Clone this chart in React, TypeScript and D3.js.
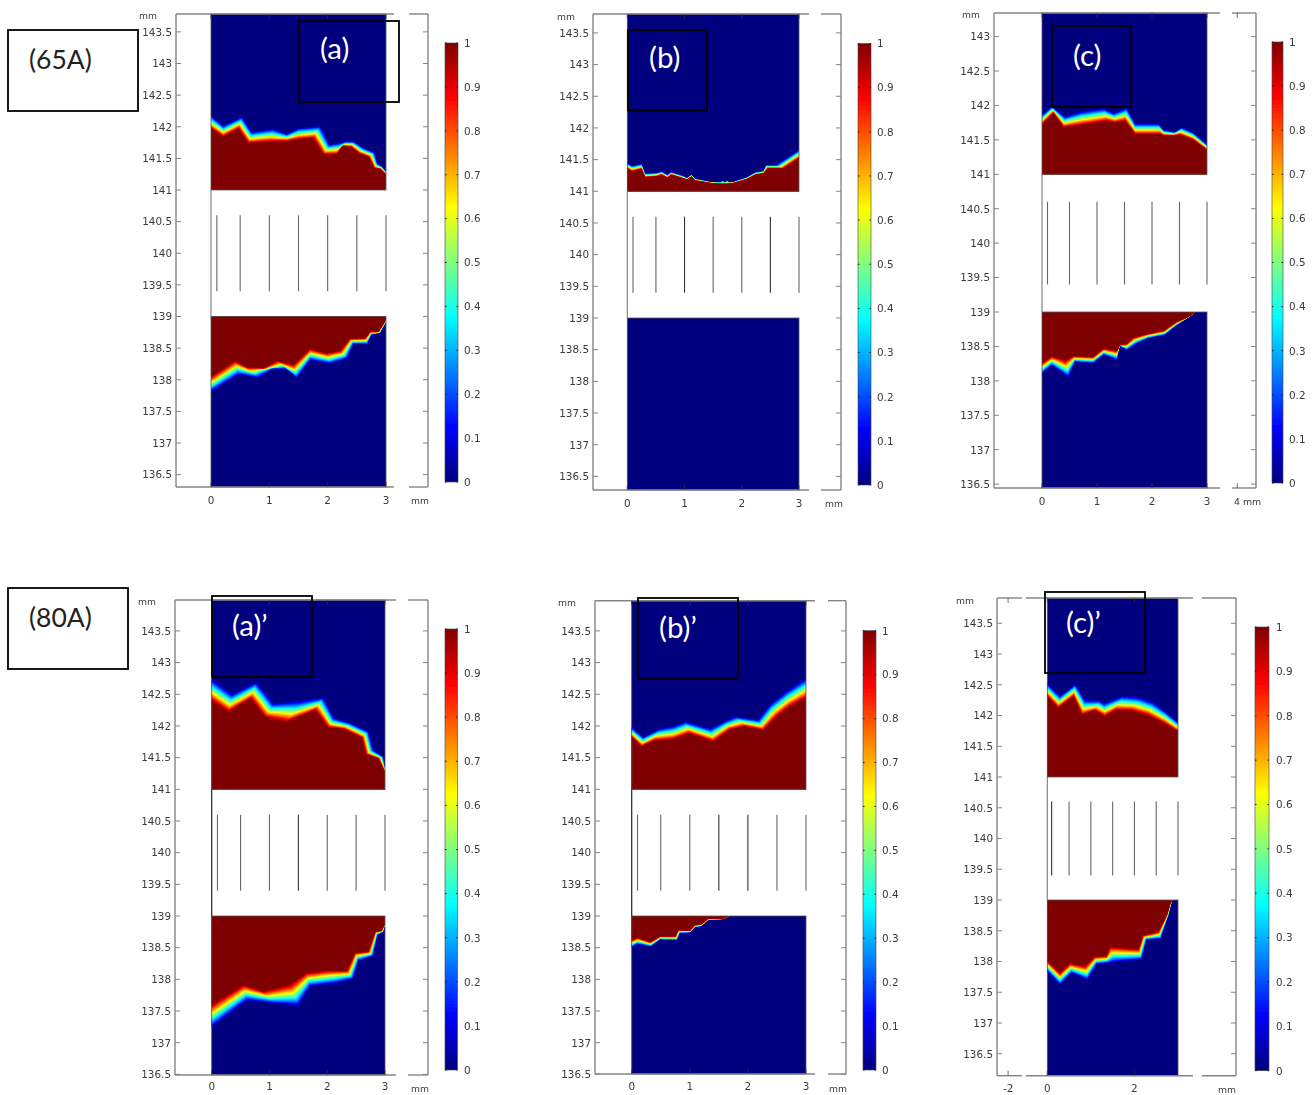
import React from "react";
import * as d3 from "d3";

// Interface rows: [xRedEdge, yRedEdge, xBlueEdge, yBlueEdge] in mm
type Row = [number, number, number, number];

const upperA: Row[] = [[0,141.97,0,142.17],[.21,141.84,.21,142.01],[.47,141.97,.53,142.15],[.64,141.74,.7,141.91],[1.0,141.76,1.07,141.96],[1.3,141.77,1.3,141.88],[1.5,141.8,1.5,141.97],[1.75,141.82,1.87,142.0],[1.93,141.56,2.03,141.71],[2.15,141.56,2.2,141.74],[2.25,141.69,2.32,141.76],[2.4,141.68,2.45,141.76],[2.53,141.58,2.62,141.66],[2.7,141.52,2.8,141.59],[2.8,141.34,2.85,141.42],[2.9,141.33,2.93,141.37],[3,141.24,3,141.29]];
const lowerA: Row[] = [[0,138.05,0,137.82],[.41,138.30,.47,138.09],[.61,138.20,.81,138.04],[.90,138.18,1.07,138.18],[1.13,138.30,1.30,138.17],[1.41,138.24,1.47,138.03],[1.70,138.49,1.70,138.32],[1.98,138.42,2.04,138.26],[2.21,138.46,2.33,138.34],[2.38,138.65,2.44,138.57],[2.64,138.66,2.68,138.57],[2.73,138.76,2.75,138.71],[2.87,138.76,2.90,138.74],[3,138.95,3,138.91]];
const upperB: Row[] = [[0,141.36,0,141.44],[.08,141.31,.08,141.40],[.25,141.35,.25,141.43],[.31,141.22,.31,141.28],[.51,141.23,.51,141.29],[.60,141.26,.60,141.31],[.70,141.21,.70,141.26],[.77,141.26,.77,141.30],[.98,141.20,.98,141.24],[1.04,141.18,1.04,141.21],[1.12,141.23,1.12,141.26],[1.18,141.17,1.18,141.20],[1.44,141.13,1.44,141.15],[1.63,141.115,1.63,141.14],[1.67,141.115,1.67,141.17],[1.7,141.115,1.7,141.14],[1.75,141.115,1.75,141.17],[1.78,141.12,1.78,141.14],[1.86,141.13,1.86,141.15],[2.09,141.19,2.09,141.22],[2.24,141.26,2.24,141.30],[2.38,141.28,2.38,141.32],[2.46,141.36,2.42,141.41],[2.73,141.36,2.6,141.41],[3,141.52,3,141.65]];
const lowerB: Row[] = [];
const upperC: Row[] = [[0,141.72,0,141.86],[.21,141.89,.18,141.98],[.39,141.68,.42,141.83],[.75,141.72,.69,141.90],[1.18,141.77,1.12,141.95],[1.33,141.75,1.30,141.88],[1.51,141.77,1.54,141.96],[1.69,141.58,1.69,141.73],[2.15,141.58,2.12,141.73],[2.21,141.56,2.21,141.64],[2.39,141.56,2.42,141.61],[2.51,141.57,2.54,141.68],[2.75,141.50,2.75,141.60],[3,141.35,3,141.43]];
const lowerC: Row[] = [[0,138.26,0,138.11],[.18,138.36,.18,138.23],[.42,138.30,.48,138.06],[.57,138.36,.60,138.28],[.93,138.35,.93,138.26],[1.12,138.47,1.12,138.38],[1.36,138.44,1.36,138.31],[1.42,138.52,1.41,138.51],[1.54,138.54,1.54,138.45],[1.66,138.63,1.72,138.54],[1.90,138.68,1.93,138.62],[2.21,138.73,2.24,138.67],[2.45,138.86,2.42,138.79],[2.64,138.92,2.64,138.91],[2.78,138.995,2.78,138.99]];
const upperAp: Row[] = [[0,142.40,0,142.72],[.29,142.22,.35,142.49],[.68,142.43,.77,142.68],[.92,142.14,1.07,142.34],[1.29,142.06,1.53,142.38],[1.79,142.25,1.93,142.44],[2.02,141.97,2.11,142.12],[2.28,141.95,2.40,142.04],[2.60,141.81,2.71,141.91],[2.67,141.55,2.79,141.62],[2.88,141.49,2.97,141.51],[3,141.27,3,141.32]];
const lowerAp: Row[] = [[0,137.60,0,137.26],[.55,137.91,.61,137.68],[.89,137.81,1.07,137.63],[1.36,137.92,1.50,137.60],[1.64,138.10,1.70,137.90],[1.99,138.14,2.16,137.95],[2.34,138.14,2.44,138.01],[2.48,138.42,2.54,138.30],[2.71,138.44,2.79,138.37],[2.83,138.75,2.87,138.70],[2.94,138.77,2.97,138.75],[3,138.88,3,138.86]];
const upperBp: Row[] = [[0,141.82,0,141.97],[.17,141.67,.20,141.82],[.37,141.76,.49,141.95],[.72,141.79,.72,141.99],[1.00,141.88,.92,142.06],[1.41,141.75,1.35,141.95],[1.69,141.94,1.61,142.07],[1.95,141.99,1.78,142.14],[2.27,141.93,2.18,142.09],[2.50,142.15,2.38,142.33],[2.73,142.31,2.67,142.54],[3,142.44,3,142.74]];
const lowerBp: Row[] = [[0,138.62,0,138.51],[.10,138.66,.10,138.56],[.32,138.59,.33,138.52],[.49,138.68,.49,138.63],[.75,138.68,.78,138.62],[.80,138.78,.83,138.73],[1.00,138.77,1.00,138.74],[1.09,138.86,1.09,138.82],[1.20,138.87,1.20,138.84],[1.32,138.96,1.32,138.94],[1.58,138.96,1.58,138.95],[1.66,138.995,1.66,138.99]];
const upperCp: Row[] = [[0,142.31,0,142.51],[.25,142.12,.29,142.31],[.60,142.31,.64,142.50],[.79,142.01,.87,142.24],[1.09,142.08,1.21,142.23],[1.32,141.98,1.30,142.19],[1.55,142.08,1.74,142.31],[1.90,142.08,2.12,142.28],[2.28,142.01,2.43,142.20],[2.66,141.88,2.73,142.05],[3,141.74,3,141.88]];
const lowerCp: Row[] = [[0,138.01,0,137.85],[.29,137.82,.29,137.63],[.52,137.97,.56,137.82],[.87,137.93,.92,137.71],[1.09,138.08,1.13,137.96],[1.36,138.09,1.38,137.98],[1.44,138.24,1.52,138.00],[2.09,138.20,2.16,138.04],[2.19,138.42,2.28,138.36],[2.55,138.49,2.60,138.37],[2.74,138.75,2.78,138.75],[2.82,138.94,2.86,138.97],[2.87,138.995,2.87,138.995]];

const yTicksFull = [136.5,137,137.5,138,138.5,139,139.5,140,140.5,141,141.5,142,142.5,143,143.5];
const yTicksC = [136.5,137,137.5,138,138.5,139,139.5,140,140.5,141,141.5,142,142.5,143];
const xLabels = ["0","1","2","3"];
const xLabelsC = ["0","1","2","3",""];
const xLabelsCp = ["-2","0","2"];
// where those tick marks fall on each panel's own millimetre scale
const xAt = [0,1,2,3];
const xAtC = [0,1,2,3,3.55];
const xAtCp = [-0.9,0,2];
const electrodes = [0.1,0.5,1,1.5,2,2.5,3];
const barTicks = [0,0.1,0.2,0.3,0.4,0.5,0.6,0.7,0.8,0.9,1];

const jetStops: [number, string][] = [[0,"#00007f"],[0.125,"#0000ff"],[0.375,"#00ffff"],[0.5,"#80ff80"],[0.625,"#ffff00"],[0.875,"#ff0000"],[1,"#7f0000"]];
const jet = d3.scaleLinear<string>().domain(jetStops.map(d => d[0])).range(jetStops.map(d => d[1])).interpolate(d3.interpolateRgb);
const levels = d3.range(0, 1.0001, 1 / 32);
const bandStretch = 1.12;

const font = "'DejaVu Sans', sans-serif";
const labelFont = "Lato, sans-serif";
const grey = "#858585";
const tickText = "#3a3a3a";

type Layout = {
  id: string; upper: Row[]; lower: Row[]; yTicks: number[]; xAt: number[]; xLabels: string[]; darkLines: number[]; darkAxis: boolean;
  left: number; right: number; top: number; bottom: number; gaps: [number, number][];
  x0: number; x3: number; y141: number; y139: number;
  barL: number; barR: number; barT: number; barB: number; barText: number;
  mmTopX: number; mmTopY: number; mmX: number; mmY: number; xLabelY: number; fourMm?: boolean;
};

const panels: Layout[] = [
  { id: "a", upper: upperA, lower: lowerA, yTicks: yTicksFull, xAt, xLabels, darkLines: [], darkAxis: false, left: 176, right: 428, top: 14, bottom: 487, gaps: [[394,409]], x0: 211, x3: 386, y141: 190, y139: 316.5, barL: 445, barR: 458, barT: 43, barB: 482, barText: 464, mmTopX: 139, mmTopY: 19, mmX: 411, mmY: 504, xLabelY: 504 },
  { id: "b", upper: upperB, lower: lowerB, yTicks: yTicksFull, xAt, xLabels, darkLines: [1,2.5], darkAxis: false, left: 593, right: 841, top: 14, bottom: 490, gaps: [[809,821]], x0: 627.3, x3: 799, y141: 191.3, y139: 318, barL: 858, barR: 871, barT: 43.5, barB: 485, barText: 877, mmTopX: 557, mmTopY: 20, mmX: 825, mmY: 507, xLabelY: 507 },
  { id: "c", upper: upperC, lower: lowerC, yTicks: yTicksC, xAt: xAtC, xLabels: xLabelsC, darkLines: [], darkAxis: false, left: 994, right: 1256, top: 13, bottom: 488, gaps: [[1220,1232]], x0: 1042, x3: 1207, y141: 174.3, y139: 312, barL: 1272, barR: 1283, barT: 42, barB: 483, barText: 1289, mmTopX: 962, mmTopY: 18, mmX: 1244, mmY: 505, xLabelY: 505, fourMm: true },
  { id: "ap", upper: upperAp, lower: lowerAp, yTicks: yTicksFull, xAt, xLabels, darkLines: [1.5], darkAxis: true, left: 175, right: 428, top: 600, bottom: 1075, gaps: [[396,408]], x0: 211.7, x3: 385, y141: 789.3, y139: 916, barL: 445, barR: 457.5, barT: 629, barB: 1070, barText: 464, mmTopX: 138, mmTopY: 605, mmX: 411, mmY: 1092, xLabelY: 1090 },
  { id: "bp", upper: upperBp, lower: lowerBp, yTicks: yTicksFull, xAt, xLabels, darkLines: [1.5,2], darkAxis: true, left: 595, right: 846, top: 600.7, bottom: 1074, gaps: [[815,828]], x0: 631.7, x3: 806, y141: 789.3, y139: 916, barL: 863, barR: 876, barT: 630.7, barB: 1070, barText: 882, mmTopX: 558, mmTopY: 606, mmX: 829, mmY: 1092, xLabelY: 1090 },
  { id: "cp", upper: upperCp, lower: lowerCp, yTicks: yTicksFull, xAt: xAtCp, xLabels: xLabelsCp, darkLines: [0.1], darkAxis: false, left: 997, right: 1236, top: 598, bottom: 1075.7, gaps: [[1022,1026],[1193,1202]], x0: 1047.3, x3: 1178, y141: 777, y139: 900, barL: 1255, barR: 1269, barT: 627, barB: 1070.7, barText: 1276, mmTopX: 956, mmTopY: 604, mmX: 1218, mmY: 1093, xLabelY: 1092 },
];

const boxes = [
  { x: 8, y: 30, w: 130, h: 81, t: "(65A)", tx: 29, ty: 69, fill: "#222", size: 26.5 },
  { x: 299, y: 21, w: 100, h: 81, t: "(a)", tx: 320, ty: 59, fill: "#fff", size: 29.5 },
  { x: 628, y: 30, w: 79, h: 80.5, t: "(b)", tx: 649, ty: 68, fill: "#fff", size: 29.5 },
  { x: 1052, y: 26, w: 79, h: 81, t: "(c)", tx: 1073, ty: 66, fill: "#fff", size: 29.5 },
  { x: 8, y: 588, w: 120, h: 81, t: "(80A)", tx: 29, ty: 627, fill: "#222", size: 26.5 },
  { x: 212, y: 596, w: 100, h: 81, t: "(a)\u2019", tx: 232, ty: 636, fill: "#fff", size: 29.5 },
  { x: 638, y: 598, w: 100, h: 81, t: "(b)\u2019", tx: 659, ty: 638, fill: "#fff", size: 29.5 },
  { x: 1045, y: 592, w: 100, h: 81, t: "(c)\u2019", tx: 1066, ty: 633, fill: "#fff", size: 29.5 },
];

const polyline = d3.line<[number, number]>().x(d => d[0]).y(d => d[1]);

function Interface({ rows, base, x, y }: { rows: Row[]; base: number; x: (v: number) => number; y: (v: number) => number }) {
  if (!rows.length) return null;
  const lastX = rows[rows.length - 1];
  return (
    <g>
      {levels.map(v => {
        const t = (1 - v) * bandStretch;
        const pts: [number, number][] = rows.map(r => [x(Math.max(0, Math.min(3, r[0] + (r[2] - r[0]) * t))), y(r[1] + (r[3] - r[1]) * t)]);
        pts.push([x(Math.min(3, lastX[0] + (lastX[2] - lastX[0]) * t)), y(base)], [x(0), y(base)]);
        return <path key={v} d={(polyline(pts) as string) + "Z"} fill={jet(v)} />;
      })}
    </g>
  );
}

function Panel({ p }: { p: Layout }) {
  const x = d3.scaleLinear().domain([0, 3]).range([p.x0, p.x3]);
  const y = d3.scaleLinear().domain([141, 139]).range([p.y141, p.y139]);
  const bar = d3.scaleLinear().domain([0, 1]).range([p.barB, p.barT]);
  const hSegs = (yy: number) => {
    const cuts = [p.left, ...p.gaps.flat(), p.right];
    const segs: number[][] = [];
    for (let i = 0; i < cuts.length; i += 2) segs.push([cuts[i], cuts[i + 1]]);
    return segs.map((s, i) => <line key={i} x1={s[0]} x2={s[1]} y1={yy} y2={yy} stroke={grey} strokeWidth={1.4} />);
  };
  return (
    <g filter="url(#soft)">
      <rect x={x(0)} width={x(3) - x(0)} y={p.top} height={y(141) - p.top} fill={jet(0)} />
      <Interface rows={p.upper} base={141} x={x} y={y} />
      <rect x={x(0)} width={x(3) - x(0)} y={y(139)} height={p.bottom - y(139)} fill={jet(0)} />
      <Interface rows={p.lower} base={139} x={x} y={y} />
      <rect x={x(0)} width={x(3) - x(0)} y={p.top} height={y(141) - p.top} fill="none" stroke="#555" strokeWidth={0.8} />
      <rect x={x(0)} width={x(3) - x(0)} y={y(139)} height={p.bottom - y(139)} fill="none" stroke="#555" strokeWidth={0.8} />
      <line x1={x(0)} x2={x(0)} y1={y(141)} y2={y(139)} stroke={p.darkAxis ? "#222" : grey} strokeWidth={1.2} />
      {electrodes.map(e => (
        <line key={e} x1={x(e)} x2={x(e)} y1={y(140.6)} y2={y(139.4)} stroke={p.darkLines.includes(e) ? "#333" : "#666"} strokeWidth={1.1} />
      ))}
      {hSegs(p.top)}
      {hSegs(p.bottom)}
      <line x1={p.left} x2={p.left} y1={p.top} y2={p.bottom} stroke={grey} strokeWidth={1.4} />
      <line x1={p.right} x2={p.right} y1={p.top} y2={p.bottom} stroke={grey} strokeWidth={1.4} />
      {p.yTicks.map(t => (
        <g key={t}>
          <line x1={p.left} x2={p.left + 5} y1={y(t)} y2={y(t)} stroke={grey} />
          <line x1={p.right - 5} x2={p.right} y1={y(t)} y2={y(t)} stroke={grey} />
          <text x={p.left - 4} y={y(t) + 3.8} textAnchor="end" fontFamily={font} fontSize={10.4} fill={tickText}>{t}</text>
        </g>
      ))}
      {p.xAt.map((t, i) => (
        <g key={t}>
          <line x1={x(t)} x2={x(t)} y1={p.top} y2={p.top + 5} stroke="#333" strokeOpacity={0.7} />
          <line x1={x(t)} x2={x(t)} y1={p.bottom - 5} y2={p.bottom} stroke="#333" strokeOpacity={0.7} />
          <text x={x(t)} y={p.xLabelY} textAnchor="middle" fontFamily={font} fontSize={10.4} fill={tickText}>{p.xLabels[i]}</text>
        </g>
      ))}
      <text x={p.mmTopX} y={p.mmTopY} fontFamily={font} fontSize={9.2} fill={tickText}>mm</text>
      {p.fourMm ? (
        <text x={1234} y={p.mmY} fontFamily={font} fontSize={9.4} fill={tickText}>4 mm</text>
      ) : (
        <text x={p.mmX} y={p.mmY} fontFamily={font} fontSize={9.2} fill={tickText}>mm</text>
      )}
      <rect x={p.barL} y={p.barT} width={p.barR - p.barL} height={p.barB - p.barT} fill="url(#jetBar)" stroke="#444" strokeWidth={0.6} />
      {barTicks.map(t => (
        <g key={t}>
          <line x1={p.barL} x2={p.barL + 1.5} y1={bar(t)} y2={bar(t)} stroke="#222" />
          <line x1={p.barR - 1.5} x2={p.barR} y1={bar(t)} y2={bar(t)} stroke="#222" />
          <text x={p.barText} y={bar(t) + 3.8} fontFamily={font} fontSize={10.4} fill={tickText}>{t}</text>
        </g>
      ))}
    </g>
  );
}

export default function App() {
  return (
    <svg width={1316} height={1095} viewBox="0 0 1316 1095" style={{ position: "absolute", left: 0, top: 0, background: "#fff" }}>
      <defs>
        <linearGradient id="jetBar" x1="0" y1="1" x2="0" y2="0">
          {jetStops.map(s => <stop key={s[0]} offset={s[0]} stopColor={s[1]} />)}
        </linearGradient>
        <filter id="soft" x="-5%" y="-5%" width="110%" height="110%">
          <feGaussianBlur stdDeviation="0.35" />
        </filter>
      </defs>
      {panels.map(p => <Panel key={p.id} p={p} />)}
      {boxes.map(b => (
        <g key={b.t}>
          <rect x={b.x} y={b.y} width={b.w} height={b.h} fill="none" stroke="#000" strokeWidth={1.8} />
          <text x={b.tx} y={b.ty} fontFamily={labelFont} fontSize={b.size} fill={b.fill}>{b.t}</text>
        </g>
      ))}
    </svg>
  );
}
